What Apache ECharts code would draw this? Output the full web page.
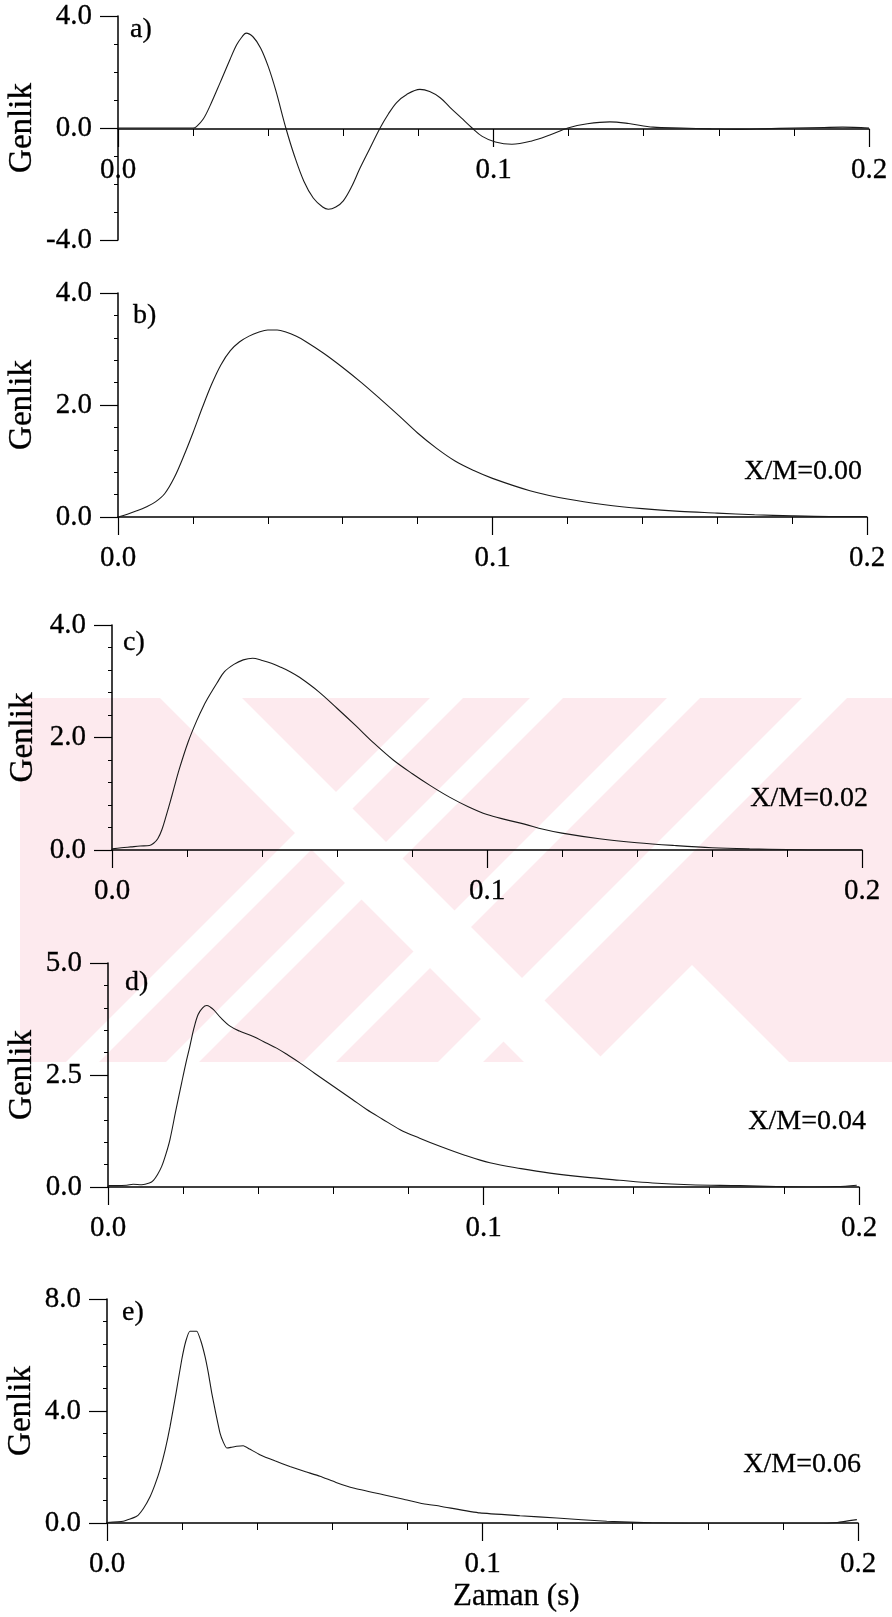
<!DOCTYPE html>
<html>
<head>
<meta charset="utf-8">
<script src="https://cdn.jsdelivr.net/npm/echarts@6/dist/echarts.min.js"></script>
<style>
html,body{margin:0;padding:0;background:#fff;}
#c{width:892px;height:1617px;}
</style>
</head>
<body>
<div id="c"></div>
<script>
// ---- data (time in s, amplitude "Genlik") ----
const xTicks = [0.0, 0.1, 0.2];
const panelNames = ['a)', 'b)', 'c)', 'd)', 'e)'];
const ratioLabels = ['', 'X/M=0.00', 'X/M=0.02', 'X/M=0.04', 'X/M=0.06'];

const tA = [0, 0.020, 0.0209, 0.0227, 0.0245, 0.0272, 0.0298, 0.0316, 0.0330, 0.0341, 0.0360, 0.0380, 0.0400, 0.0420, 0.0447, 0.0470, 0.0495, 0.0520, 0.0545, 0.0560, 0.0580, 0.0600, 0.0622, 0.0644, 0.0670, 0.0698, 0.0720, 0.0742, 0.0769, 0.0804, 0.0830, 0.0858, 0.0884, 0.0915, 0.0943, 0.0970, 0.1005, 0.1049, 0.1100, 0.1150, 0.1198, 0.1250, 0.1310, 0.1360, 0.1425, 0.150, 0.158, 0.165, 0.172, 0.180, 0.188, 0.193, 0.200];
const gA = [0, 0, 0.05, 0.32, 0.79, 1.62, 2.44, 2.97, 3.25, 3.39, 3.25, 2.85, 2.2, 1.35, 0, -1.0, -1.9, -2.5, -2.82, -2.9, -2.82, -2.6, -2.1, -1.45, -0.75, 0, 0.5, 0.91, 1.2, 1.38, 1.3, 1.08, 0.74, 0.35, 0, -0.3, -0.5, -0.58, -0.47, -0.25, 0, 0.15, 0.22, 0.16, 0.03, 0, -0.03, -0.05, -0.03, 0, 0.02, 0.03, 0];

const tB = [0, 0.0025, 0.005, 0.0075, 0.010, 0.0125, 0.015, 0.0175, 0.020, 0.0225, 0.025, 0.0275, 0.030, 0.0325, 0.035, 0.0375, 0.040, 0.0425, 0.045, 0.0475, 0.050, 0.055, 0.060, 0.065, 0.070, 0.075, 0.080, 0.085, 0.090, 0.095, 0.100, 0.110, 0.120, 0.130, 0.140, 0.150, 0.160, 0.170, 0.180, 0.190, 0.200];
const gB = [0, 0.05, 0.11, 0.18, 0.27, 0.42, 0.70, 1.08, 1.50, 1.95, 2.37, 2.72, 2.97, 3.13, 3.23, 3.30, 3.34, 3.34, 3.30, 3.23, 3.14, 2.92, 2.67, 2.40, 2.11, 1.81, 1.50, 1.23, 1.00, 0.83, 0.69, 0.47, 0.32, 0.22, 0.15, 0.10, 0.07, 0.04, 0.02, 0.01, 0.01];

const tC = [0, 0.0025, 0.005, 0.0075, 0.010, 0.0111, 0.0122, 0.0133, 0.0145, 0.0155, 0.0164, 0.018, 0.0203, 0.0226, 0.0245, 0.026, 0.028, 0.030, 0.0325, 0.035, 0.0375, 0.040, 0.0425, 0.045, 0.0475, 0.050, 0.055, 0.060, 0.065, 0.070, 0.075, 0.080, 0.085, 0.090, 0.095, 0.100, 0.105, 0.110, 0.115, 0.120, 0.130, 0.140, 0.150, 0.160, 0.170, 0.180, 0.190, 0.200];
const gC = [0.02, 0.04, 0.055, 0.07, 0.08, 0.12, 0.2, 0.36, 0.62, 0.85, 1.07, 1.45, 1.92, 2.3, 2.57, 2.75, 2.97, 3.17, 3.3, 3.38, 3.41, 3.37, 3.32, 3.25, 3.17, 3.07, 2.82, 2.52, 2.21, 1.89, 1.60, 1.36, 1.14, 0.94, 0.77, 0.63, 0.54, 0.46, 0.37, 0.30, 0.20, 0.13, 0.08, 0.04, 0.02, 0.01, 0, 0];

const tD = [0, 0.0025, 0.005, 0.0067, 0.009, 0.011, 0.0121, 0.0132, 0.0143, 0.0154, 0.0165, 0.018, 0.0196, 0.0207, 0.0218, 0.0229, 0.024, 0.0252, 0.0263, 0.0272, 0.0281, 0.030, 0.0325, 0.035, 0.0387, 0.0420, 0.0449, 0.048, 0.0511, 0.055, 0.060, 0.065, 0.0689, 0.073, 0.0778, 0.083, 0.0884, 0.095, 0.1017, 0.110, 0.1177, 0.127, 0.1363, 0.145, 0.155, 0.1683, 0.178, 0.186, 0.194, 0.1994];
const gD = [0.03, 0.03, 0.04, 0.06, 0.05, 0.09, 0.15, 0.28, 0.46, 0.73, 1.06, 1.68, 2.32, 2.75, 3.14, 3.55, 3.85, 4.0, 4.05, 4.02, 3.96, 3.78, 3.59, 3.48, 3.36, 3.22, 3.1, 2.94, 2.77, 2.54, 2.25, 1.96, 1.73, 1.52, 1.28, 1.09, 0.91, 0.71, 0.54, 0.41, 0.31, 0.22, 0.15, 0.09, 0.05, 0.03, 0.01, 0, 0.01, 0.04];

const tE = [0, 0.0043, 0.0079, 0.0097, 0.0115, 0.0128, 0.0141, 0.0155, 0.0168, 0.0184, 0.0199, 0.0210, 0.0221, 0.0239, 0.0250, 0.0261, 0.0270, 0.0279, 0.0290, 0.0301, 0.0310, 0.0319, 0.0330, 0.0345, 0.0363, 0.0380, 0.0407, 0.0447, 0.0487, 0.0527, 0.0567, 0.0610, 0.0656, 0.0736, 0.0790, 0.0842, 0.0887, 0.0993, 0.1100, 0.1198, 0.1331, 0.1450, 0.1553, 0.1730, 0.1900, 0.1945, 0.1997];
const gE = [0.02, 0.06, 0.24, 0.52, 0.95, 1.38, 1.90, 2.62, 3.45, 4.65, 5.83, 6.5, 6.85, 6.85, 6.5, 5.95, 5.35, 4.64, 3.9, 3.21, 2.88, 2.68, 2.7, 2.74, 2.76, 2.64, 2.44, 2.22, 2.02, 1.84, 1.67, 1.45, 1.25, 1.01, 0.85, 0.69, 0.60, 0.36, 0.26, 0.18, 0.06, 0.01, -0.02, -0.03, -0.03, 0.02, 0.12];

// y-axis ranges: [min, max, interval, minor splits]
const yRanges = [[-4, 4, 4, 4], [0, 4, 2, 5], [0, 4, 2, 5], [0, 5, 2.5, 5], [0, 8, 4, 5]];

// ---- layout ----
const FONT = "'Liberation Serif','Times New Roman',serif";
const grids = [
  {left:118, top:16,  width:751, height:224},
  {left:118, top:293, width:749, height:224},
  {left:112, top:625, width:750, height:225},
  {left:108, top:963, width:751, height:224},
  {left:107, top:1299,width:751, height:224}
].map(g => Object.assign(g, {outerBoundsMode:'none', containLabel:false}));
const xOffsets = [-111, 0, 0, 0, 0];   // panel a: time axis drawn along zero amplitude
const nameGaps = [79, 79, 72, 69, 69];
const times = [tA, tB, tC, tD, tE];
const amps = [gA, gB, gC, gD, gE];

const xAxes = grids.map((g, i) => ({
  type:'value', gridIndex:i, min:0, max:0.2, interval:0.1, offset:xOffsets[i],
  axisLine:{show:true, onZero:false, lineStyle:{color:'#000', width:1.5}},
  axisTick:{show:true, length:18, lineStyle:{color:'#000', width:1.2}},
  minorTick:{show:true, splitNumber:5, length:7, lineStyle:{color:'#000', width:1}},
  axisLabel:{margin:27, fontFamily:FONT, fontSize:29, color:'#000', textBorderColor:'#000', textBorderWidth:0.3,
    formatter:v => (xTicks.some(t => Math.abs(t - v) < 1e-9) ? v.toFixed(1) : '')},
  splitLine:{show:false}, minorSplitLine:{show:false}
}));
const yAxes = grids.map((g, i) => ({
  type:'value', gridIndex:i, min:yRanges[i][0], max:yRanges[i][1], interval:yRanges[i][2],
  name:'Genlik', nameLocation:'middle', nameGap:nameGaps[i], nameMoveOverlap:false,
  nameTextStyle:{fontFamily:FONT, fontSize:33, color:'#000', textBorderColor:'#000', textBorderWidth:0.3},
  axisLine:{show:true, onZero:false, lineStyle:{color:'#000', width:1.5}},
  axisTick:{show:true, length:18, lineStyle:{color:'#000', width:1.2}},
  minorTick:{show:true, splitNumber:yRanges[i][3], length:4, lineStyle:{color:'#000', width:1}},
  axisLabel:{margin:26, fontFamily:FONT, fontSize:29, color:'#000', textBorderColor:'#000', textBorderWidth:0.3,
    formatter:v => v.toFixed(1)},
  splitLine:{show:false}, minorSplitLine:{show:false}
}));
const series = times.map((t, i) => ({
  type:'line', xAxisIndex:i, yAxisIndex:i, showSymbol:false, smooth:i === 4 ? 0.15 : 0.35,
  lineStyle:{color:'#1a1a1a', width:1.1}, silent:true, animation:false, z:5,
  data:t.map((x, k) => [x, amps[i][k]])
}));

const labelPos = [[130,30],[133,316],[123,643],[125,983],[122,1313]];
const ratioPos = [null,[862,472],[868,799],[866,1122],[861,1465]];
const graphics = [];

// light pink background watermark band (scanned page decoration)
const PINK = '#fdeaee';
const bandTop = 698, bandBot = 1062, H = bandBot - bandTop;
graphics.push({type:'rect', z:-100, silent:true, shape:{x:20, y:bandTop, width:872, height:H}, style:{fill:PINK}});
const backSlash = [[160, 242]];
const slash = [[430, 463], [530, 563], [667, 700], [802, 847]];
backSlash.forEach(s => graphics.push({type:'polygon', z:-99, silent:true,
  shape:{points:[[s[0], bandTop], [s[1], bandTop], [s[1] + H, bandBot], [s[0] + H, bandBot]]}, style:{fill:'#fff'}}));
slash.forEach(s => graphics.push({type:'polygon', z:-99, silent:true,
  shape:{points:[[s[0], bandTop], [s[1], bandTop], [s[1] - H, bandBot], [s[0] - H, bandBot]]}, style:{fill:'#fff'}}));
graphics.push({type:'polygon', z:-99, silent:true,
  shape:{points:[[692, 965], [692 + (bandBot - 965), bandBot], [692 - (bandBot - 965), bandBot]]}, style:{fill:'#fff'}});

panelNames.forEach((n, i) => {
  graphics.push({type:'text', x:labelPos[i][0], y:labelPos[i][1], silent:true, z:10,
    style:{text:n, fill:'#000', stroke:'#000', lineWidth:0.3, font:'28px ' + FONT, textAlign:'left', textVerticalAlign:'middle'}});
  if (ratioPos[i]) graphics.push({type:'text', x:ratioPos[i][0], y:ratioPos[i][1], silent:true, z:10,
    style:{text:ratioLabels[i], fill:'#000', stroke:'#000', lineWidth:0.3, font:'28px ' + FONT, textAlign:'right', textVerticalAlign:'middle'}});
});
graphics.push({type:'text', x:453, y:1597, silent:true, z:10,
  style:{text:'Zaman (s)', fill:'#000', stroke:'#000', lineWidth:0.3, font:'31px ' + FONT, textAlign:'left', textVerticalAlign:'middle'}});

const chart = echarts.init(document.getElementById('c'), null, {renderer:'canvas'});
chart.setOption({
  animation:false, backgroundColor:'#fff',
  grid:grids, xAxis:xAxes, yAxis:yAxes, series:series, graphic:graphics
});
</script>
</body>
</html>
